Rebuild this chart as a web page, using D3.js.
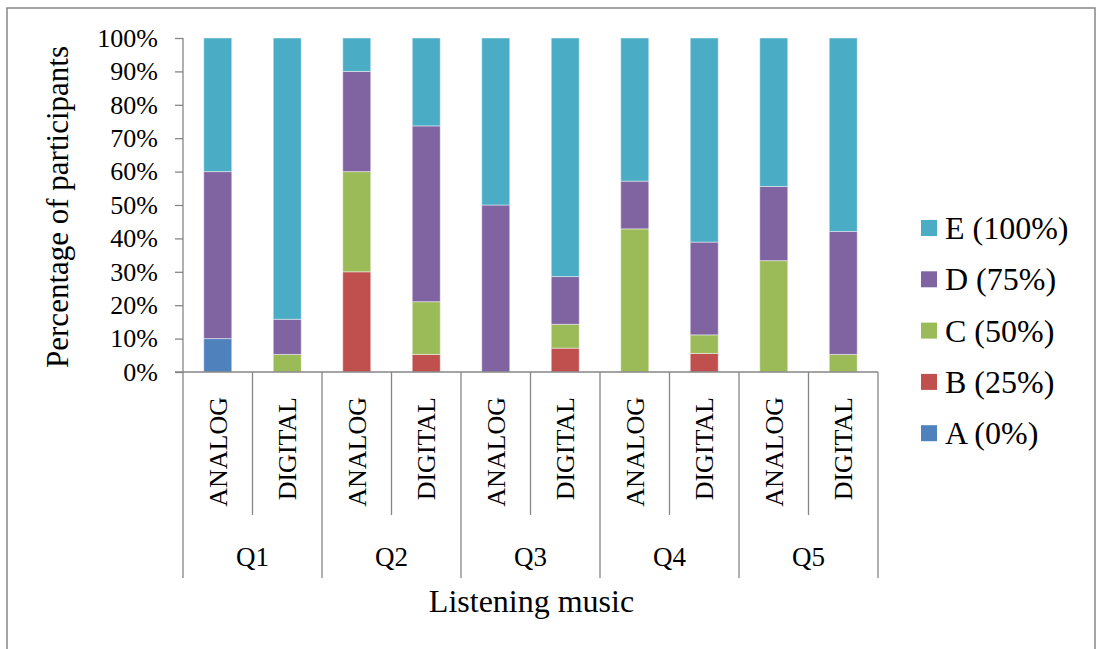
<!DOCTYPE html>
<html>
<head>
<meta charset="utf-8">
<script src="https://cdn.jsdelivr.net/npm/d3@7"></script>
<style>
  html, body { margin: 0; padding: 0; background: #fff; }
  svg { display: block; }
  text { font-family: "Liberation Serif", "Times New Roman", serif; fill: #000; }
</style>
</head>
<body>
<svg id="chart" width="1099" height="649"></svg>
<script>
// Questions and listening conditions
const groups = ["Q1", "Q2", "Q3", "Q4", "Q5"];
const modes = ["ANALOG", "DIGITAL"];
const bars = ["Q1-ANALOG", "Q1-DIGITAL", "Q2-ANALOG", "Q2-DIGITAL", "Q3-ANALOG",
              "Q3-DIGITAL", "Q4-ANALOG", "Q4-DIGITAL", "Q5-ANALOG", "Q5-DIGITAL"];

// Share of participants (%) per answer, one value per bar
const seriesA = [10, 0, 0, 0, 0, 0, 0, 0, 0, 0];
const seriesB = [0, 0, 30, 5.26, 0, 7.14, 0, 5.56, 0, 0];
const seriesC = [0, 5.26, 30, 15.79, 0, 7.14, 42.86, 5.56, 33.33, 5.26];
const seriesD = [50, 10.53, 30, 52.63, 50, 14.29, 14.29, 27.78, 22.22, 36.84];
const seriesE = [40, 84.21, 10, 26.32, 50, 71.43, 42.86, 61.11, 44.44, 57.89];

const seriesKeys = ["A", "B", "C", "D", "E"];
const seriesNames = ["A (0%)", "B (25%)", "C (50%)", "D (75%)", "E (100%)"];
const seriesColors = ["#4F81BD", "#C0504D", "#9BBB59", "#8064A2", "#4BACC6"];

const yTicks = [0, 0.1, 0.2, 0.3, 0.4, 0.5, 0.6, 0.7, 0.8, 0.9, 1];

const rows = bars.map((b, i) => ({
  bar: b, A: seriesA[i], B: seriesB[i], C: seriesC[i], D: seriesD[i], E: seriesE[i]
}));

const svg = d3.select("#chart");
const axisColor = "#868686";

// outer frame
svg.append("rect")
  .attr("x", 7).attr("y", 8).attr("width", 1088).attr("height", 660)
  .attr("fill", "none").attr("stroke", axisColor).attr("stroke-width", 1.5);

const plot = { left: 183, right: 878, top: 38, bottom: 372 };

const x = d3.scaleBand().domain(bars).range([plot.left, plot.right])
  .paddingInner(0.597).paddingOuter(0.2985);
const y = d3.scaleLinear().domain([0, 1]).range([plot.bottom, plot.top]);
const color = d3.scaleOrdinal().domain(seriesKeys).range(seriesColors);

const stacked = d3.stack().keys(seriesKeys).offset(d3.stackOffsetExpand)(rows);

// stacked bars
svg.append("g").selectAll("g").data(stacked).join("g")
  .attr("fill", d => color(d.key))
  .selectAll("rect").data(d => d).join("rect")
  .attr("x", d => x(d.data.bar))
  .attr("width", x.bandwidth())
  .attr("y", d => y(d[1]))
  .attr("height", d => Math.max(0, y(d[0]) - y(d[1])))
  .attr("stroke", d => (d[1] - d[0]) > 0 ? "rgba(255,255,255,0.45)" : "none")
  .attr("stroke-width", 1);

// y axis
const yAxis = d3.axisLeft(y).tickValues(yTicks).tickFormat(d3.format(".0%"))
  .tickSize(8).tickPadding(17);
const gy = svg.append("g").attr("transform", `translate(${plot.left},0)`).call(yAxis);
gy.select(".domain").attr("stroke", axisColor).attr("stroke-width", 1.3)
  .attr("d", `M0,${plot.top}V${plot.bottom}`);
gy.selectAll(".tick line").attr("stroke", axisColor).attr("stroke-width", 1.3);
gy.selectAll(".tick text").attr("font-size", 26)
  .attr("font-family", "Liberation Serif").attr("fill", "#000");

// x axis baseline
svg.append("line")
  .attr("x1", plot.left - 8).attr("x2", plot.right)
  .attr("y1", plot.bottom).attr("y2", plot.bottom)
  .attr("stroke", axisColor).attr("stroke-width", 1.3);

// group and sub-category separators
const step = x.step();
const groupBounds = d3.range(groups.length + 1).map(i => plot.left + i * 2 * step);
svg.append("g").selectAll("line").data(groupBounds).join("line")
  .attr("x1", d => d).attr("x2", d => d)
  .attr("y1", plot.bottom).attr("y2", 578)
  .attr("stroke", axisColor).attr("stroke-width", 1.3);
const subBounds = groups.map((g, i) => plot.left + (2 * i + 1) * step);
svg.append("g").selectAll("line").data(subBounds).join("line")
  .attr("x1", d => d).attr("x2", d => d)
  .attr("y1", plot.bottom).attr("y2", 515)
  .attr("stroke", axisColor).attr("stroke-width", 1.3);

// rotated condition labels
svg.append("g").selectAll("text").data(bars).join("text")
  .attr("transform", d => `translate(${x(d) + x.bandwidth() / 2 + 9},397) rotate(-90)`)
  .attr("text-anchor", "end")
  .attr("font-size", 26)
  .text(d => d.split("-")[1]);

// question labels
svg.append("g").selectAll("text").data(groups).join("text")
  .attr("x", (d, i) => plot.left + (2 * i + 1) * step)
  .attr("y", 566)
  .attr("text-anchor", "middle")
  .attr("font-size", 27)
  .text(d => d);

// axis titles
svg.append("text")
  .attr("x", (plot.left + plot.right) / 2 + 1).attr("y", 612)
  .attr("text-anchor", "middle").attr("font-size", 32)
  .text("Listening music");
svg.append("text")
  .attr("transform", `translate(68,${(plot.top + plot.bottom) / 2 + 2}) rotate(-90)`)
  .attr("text-anchor", "middle").attr("font-size", 31)
  .text("Percentage of participants");

// legend, E on top
const legendOrder = seriesKeys.slice().reverse();
const lg = svg.append("g").selectAll("g").data(legendOrder).join("g")
  .attr("transform", (d, i) => `translate(921,${228 + i * 51.3})`);
lg.append("rect").attr("x", 0).attr("y", -8).attr("width", 16).attr("height", 16)
  .attr("fill", d => color(d));
lg.append("text").attr("x", 24).attr("y", 11).attr("font-size", 32)
  .text(d => seriesNames[seriesKeys.indexOf(d)]);
</script>
</body>
</html>
